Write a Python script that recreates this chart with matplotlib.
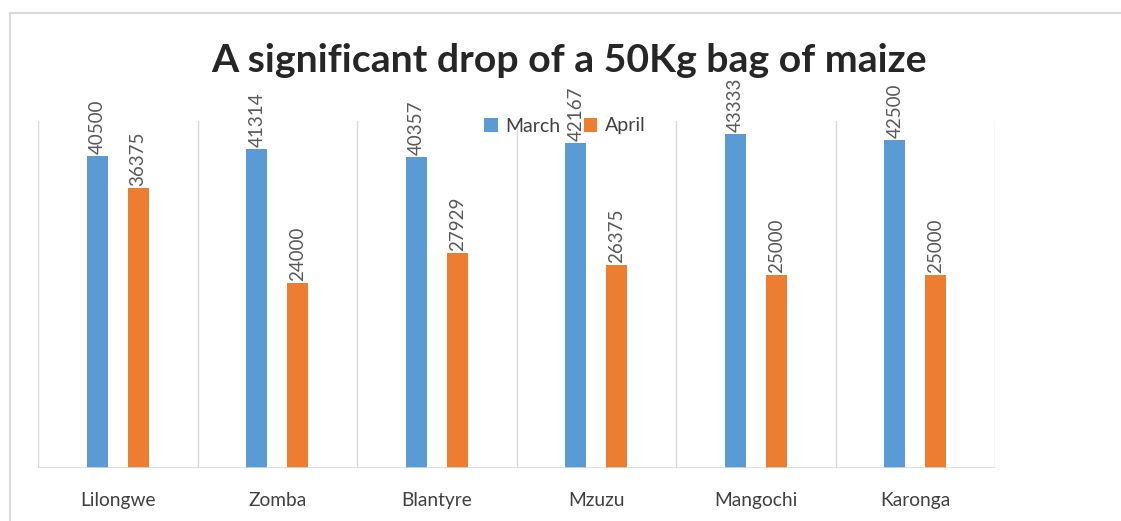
import matplotlib

matplotlib.use("Agg")
import matplotlib.pyplot as plt
import numpy as np
from matplotlib.lines import Line2D

plt.rcParams["font.family"] = ["Lato", "DejaVu Sans"]

cities = ["Lilongwe", "Zomba", "Blantyre", "Mzuzu", "Mangochi", "Karonga"]
march = [40500, 41314, 40357, 42167, 43333, 42500]
april = [36375, 24000, 27929, 26375, 25000, 25000]

BLUE = "#5b9bd5"
ORANGE = "#ed7d31"
GRID = "#d9d9d9"
LABEL = "#595959"

fig = plt.figure(figsize=(11.21, 5.21), dpi=100)
ax = fig.add_axes([38 / 1121, 1 - 468 / 521, (995 - 38) / 1121, (468 - 121) / 521])

x = np.arange(len(cities))
w = 0.132
off = 0.128
b1 = ax.bar(x - off, march, w, color=BLUE, label="March")
b2 = ax.bar(x + off, april, w, color=ORANGE, label="April")

for bars in (b1, b2):
    for rect in bars:
        ax.text(rect.get_x() + rect.get_width() / 2, rect.get_height() + 250,
                f"{int(rect.get_height())}", rotation=90, ha="center", va="bottom",
                fontsize=13.5, color=LABEL, clip_on=False)

ax.set_xlim(-0.5, len(cities) - 0.5)
ax.set_ylim(0, 45000)
for sep in np.arange(-0.5, len(cities), 1.0):
    ax.axvline(sep, color=GRID, lw=1, zorder=0)

for s in ax.spines.values():
    s.set_visible(False)
ax.axhline(0, color=GRID, lw=1.2, zorder=3)
ax.set_yticks([])
ax.set_xticks(x)
ax.set_xticklabels(cities, fontsize=13.8, color="#404040")
ax.tick_params(axis="x", length=0, pad=17)

fig.text(0.508, 1 - 61 / 521, "A significant drop of a 50Kg bag of maize",
         ha="center", va="center", fontsize=28.3, fontweight="bold", color="#262626")

ax.legend(loc="center", bbox_to_anchor=(565 / 1121, 1 - 126 / 521),
          bbox_transform=fig.transFigure, ncol=2, frameon=False, fontsize=14,
          handlelength=0.7, handleheight=0.7, handletextpad=0.4, columnspacing=1.2,
          labelcolor="#404040")

# chart border from the document page
fig.add_artist(Line2D([9.5 / 1121, 9.5 / 1121], [0, 1 - 13 / 521], color=GRID, lw=1.5,
                      transform=fig.transFigure))
fig.add_artist(Line2D([9.5 / 1121, 1], [1 - 13 / 521, 1 - 13 / 521], color=GRID, lw=1.5,
                      transform=fig.transFigure))

fig.savefig("out.png", dpi=100)
